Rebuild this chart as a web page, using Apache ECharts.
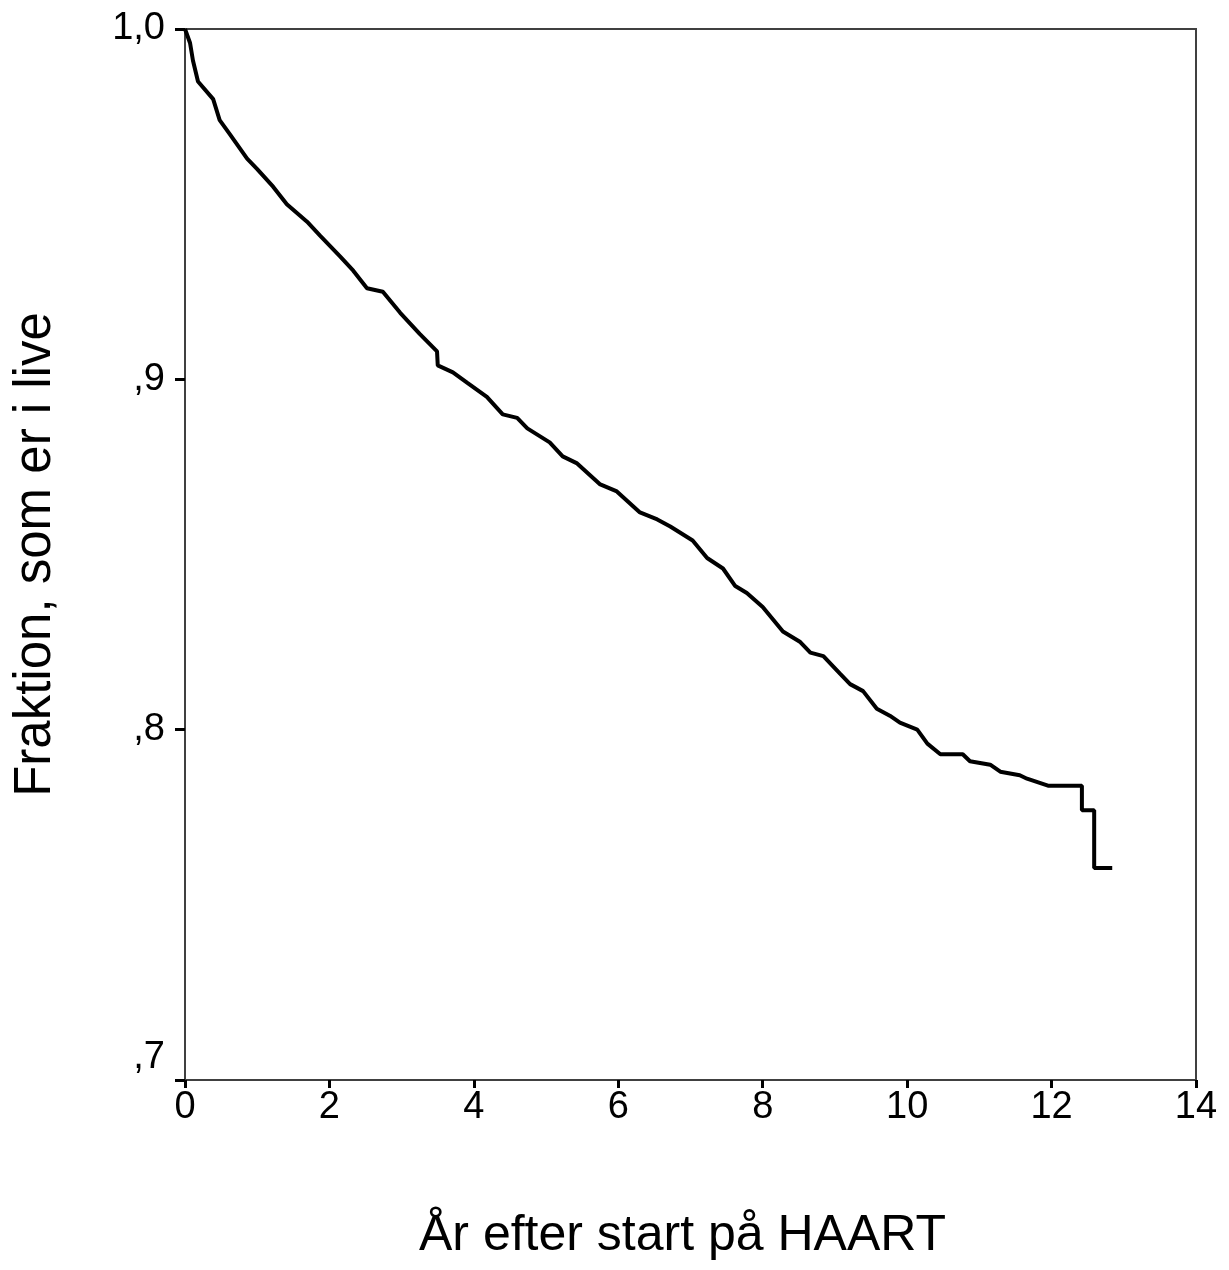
<!DOCTYPE html>
<html>
<head>
<meta charset="utf-8">
<script src="https://cdn.jsdelivr.net/npm/echarts@6/dist/echarts.min.js"></script>
<style>
  html, body { margin: 0; padding: 0; background: #fff; }
  #chart { width: 1229px; height: 1270px; }
</style>
</head>
<body>
<div id="chart"></div>
<script>
// år efter start, andel i live
var years = [0, 0.07, 0.11, 0.18, 0.39, 0.48, 0.62, 0.86, 1.00, 1.22, 1.41, 1.69, 1.87, 2.15, 2.33, 2.52, 2.74, 2.98,
  3.25, 3.49, 3.50, 3.71, 3.91, 4.18, 4.40, 4.60, 4.74, 5.05, 5.23, 5.43, 5.75, 5.98, 6.30, 6.54, 6.72,
  7.03, 7.23, 7.45, 7.62, 7.78, 8.00, 8.28, 8.52, 8.66, 8.84, 9.07, 9.21, 9.39, 9.58, 9.76, 9.90,
  10.14, 10.28, 10.46, 10.77, 10.87, 11.15, 11.29, 11.56, 11.66, 11.95, 12.42, 12.42, 12.59, 12.59, 12.84];
var survival = [1.000, 0.996, 0.991, 0.985, 0.980, 0.974, 0.970, 0.963, 0.960, 0.955, 0.950, 0.945, 0.941, 0.935, 0.931, 0.926, 0.925, 0.919,
  0.913, 0.908, 0.904, 0.902, 0.899, 0.895, 0.890, 0.889, 0.886, 0.882, 0.878, 0.876, 0.870, 0.868, 0.862, 0.860, 0.858,
  0.854, 0.849, 0.846, 0.841, 0.839, 0.835, 0.828, 0.825, 0.822, 0.821, 0.816, 0.813, 0.811, 0.806, 0.804, 0.802,
  0.800, 0.796, 0.793, 0.793, 0.791, 0.790, 0.788, 0.787, 0.786, 0.784, 0.784, 0.777, 0.777, 0.7605, 0.7605];

var chart = echarts.init(document.getElementById('chart'));
var font = 'Liberation Sans';

var points = years.map(function (t, i) {
    return [t, survival[i]];
});

var option = {
    backgroundColor: '#fff',
    animation: false,
    grid: {
        left: 185,
        top: 29,
        right: 33,
        bottom: 190,
        show: true,
        borderColor: '#404040',
        borderWidth: 2
    },
    xAxis: {
        type: 'value',
        min: 0,
        max: 14,
        interval: 2,
        name: 'År efter start på HAART',
        nameLocation: 'middle',
        nameGap: 131,
        nameTextStyle: { fontFamily: font, fontSize: 50, color: '#000', padding: [0, 16, 0, 0] },
        axisLine: { show: true, onZero: false, lineStyle: { color: '#404040', width: 2 } },
        axisTick: { show: true, length: 8, lineStyle: { color: '#000', width: 3 } },
        axisLabel: { margin: 9, fontFamily: font, fontSize: 38, color: '#000' },
        splitLine: { show: false }
    },
    yAxis: {
        type: 'value',
        min: 0.7,
        max: 1.0,
        interval: 0.1,
        name: 'Fraktion, som er i live',
        nameLocation: 'middle',
        nameRotate: 90,
        nameGap: 124,
        nameTextStyle: { fontFamily: font, fontSize: 51, color: '#000' },
        axisLine: { show: true, onZero: false, lineStyle: { color: '#404040', width: 2 } },
        axisTick: { show: true, length: 10, lineStyle: { color: '#000', width: 3 } },
        axisLabel: {
            margin: 20,
            fontFamily: font,
            fontSize: 38,
            color: '#000',
            formatter: function (v) {
                var r = Math.round(v * 10);
                if (r === 10) return '1,0';
                if (r === 7) return '{low|,7}';
                return ',' + r;
            },
            rich: {
                low: { fontFamily: font, fontSize: 38, color: '#000', padding: [0, 0, 44, 0] }
            }
        },
        splitLine: { show: false }
    },
    series: [
        {
            type: 'line',
            data: points,
            showSymbol: false,
            symbol: 'none',
            lineStyle: { color: '#000', width: 4 },
            clip: false
        }
    ]
};
chart.setOption(option);
</script>
</body>
</html>
